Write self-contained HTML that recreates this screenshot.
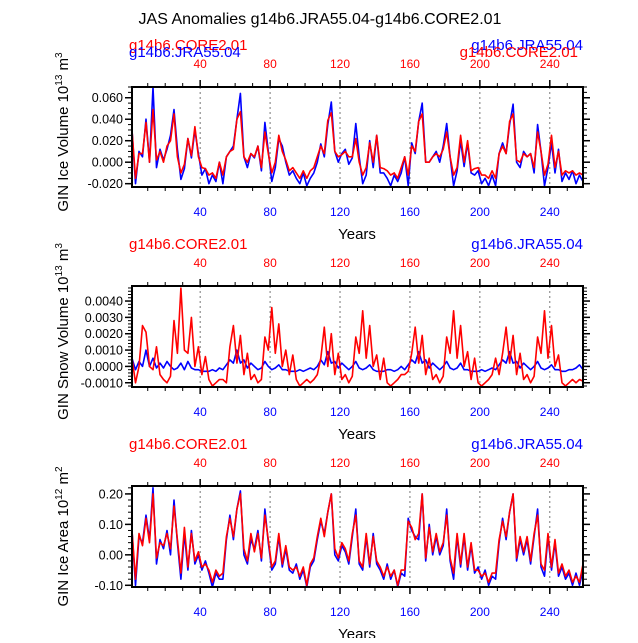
<!DOCTYPE html>
<html><head><meta charset="utf-8"><style>
body{margin:0;background:#fff}
svg text{font-family:"Liberation Sans",Arial,sans-serif}
</style></head><body>
<svg id="chart" width="638" height="638" viewBox="0 0 638 638" xmlns="http://www.w3.org/2000/svg">
<text x="320" y="24" font-size="16" text-anchor="middle">JAS Anomalies g14b6.JRA55.04-g14b6.CORE2.01</text>
</svg>
<script>
const years=[];for(let y=1;y<=259;y+=2)years.push(y);
const xTicks=[40,80,120,160,200,240];
const iceVolBlue=[0.030,-0.020,0.010,0.005,0.040,0.000,0.070,-0.005,0.012,0.002,0.012,0.025,0.049,0.012,-0.016,-0.006,0.022,0.004,0.030,0.008,-0.012,-0.006,-0.020,-0.012,-0.018,0.000,
-0.020,0.005,0.010,0.015,0.040,0.064,0.005,-0.005,0.008,0.004,0.015,-0.008,0.037,0.010,-0.018,-0.005,0.022,0.015,0.000,-0.012,-0.008,-0.015,-0.020,-0.010,-0.022,-0.015,
-0.010,0.000,0.017,0.005,0.035,0.056,0.010,0.000,0.008,0.012,-0.002,0.004,0.036,0.005,-0.020,-0.012,0.020,-0.005,0.025,-0.010,-0.010,-0.015,-0.022,-0.012,-0.018,-0.010,
0.005,-0.022,0.018,0.008,0.038,0.055,0.000,0.000,0.005,0.010,0.000,0.015,0.036,0.005,-0.022,-0.008,0.020,-0.004,0.018,-0.010,-0.012,-0.008,-0.020,-0.015,-0.022,-0.012,
-0.022,0.008,0.018,0.008,0.035,0.054,0.000,-0.005,0.010,0.005,0.008,-0.010,0.035,0.010,-0.022,-0.005,0.018,-0.010,0.012,-0.018,-0.010,-0.016,-0.008,-0.020,-0.012,-0.018];
const iceVolRed=[0.030,-0.015,0.008,0.008,0.037,0.000,0.049,0.002,0.010,0.000,0.015,0.020,0.045,0.005,-0.010,-0.002,0.022,0.006,0.033,0.005,-0.005,-0.006,-0.012,-0.010,-0.015,0.000,
-0.012,0.005,0.010,0.012,0.040,0.047,0.005,0.000,0.008,0.005,0.015,-0.005,0.028,0.008,-0.010,0.000,0.025,0.010,0.002,-0.008,-0.005,-0.010,-0.015,-0.008,-0.015,-0.008,
-0.005,0.005,0.015,0.008,0.039,0.046,0.010,0.005,0.007,0.010,0.005,0.005,0.022,0.000,-0.012,-0.005,0.018,0.000,0.025,-0.005,-0.006,-0.008,-0.012,-0.010,-0.015,-0.005,
0.005,-0.012,0.015,0.010,0.038,0.045,0.000,0.000,0.005,0.008,0.005,0.012,0.028,0.005,-0.012,-0.005,0.025,0.000,0.020,-0.008,-0.006,-0.005,-0.012,-0.012,-0.015,-0.008,
-0.015,0.008,0.015,0.008,0.038,0.045,0.002,0.000,0.008,0.005,0.008,-0.005,0.028,0.010,-0.012,-0.002,0.025,-0.005,0.010,-0.012,-0.008,-0.010,-0.008,-0.012,-0.010,-0.012];
const snowBlue=[0.0005,-0.0002,0.0003,0.0000,0.0010,0.0000,0.0005,-0.0001,0.0002,-0.0001,0.0003,0.0000,-0.0002,-0.0001,0.0002,-0.0002,0.0003,-0.0001,-0.0002,-0.0002,-0.0003,-0.0003,-0.0003,-0.0002,-0.0003,-0.0001,
-0.0002,0.0001,0.0004,0.0002,0.0010,0.0002,0.0004,-0.0001,0.0002,0.0000,-0.0002,-0.0001,0.0003,0.0000,-0.0002,-0.0001,0.0001,-0.0002,-0.0002,-0.0003,-0.0003,-0.0003,-0.0002,-0.0003,-0.0002,-0.0001,
-0.0002,0.0000,0.0004,0.0001,0.0009,0.0002,0.0003,-0.0001,0.0002,0.0000,-0.0002,0.0000,0.0003,-0.0001,-0.0002,-0.0001,0.0001,-0.0002,-0.0003,-0.0003,-0.0003,-0.0002,-0.0002,-0.0003,-0.0002,0.0000,
-0.0002,0.0001,0.0004,0.0002,0.0009,0.0002,0.0004,-0.0001,0.0002,0.0000,-0.0002,0.0000,0.0003,-0.0001,-0.0002,-0.0001,0.0002,-0.0002,-0.0002,-0.0003,-0.0003,-0.0003,-0.0002,-0.0003,-0.0002,-0.0001,
-0.0002,0.0001,0.0004,0.0002,0.0009,0.0002,0.0003,-0.0001,0.0002,0.0000,-0.0002,0.0000,0.0003,-0.0001,-0.0002,-0.0001,0.0001,-0.0002,-0.0002,-0.0003,-0.0003,-0.0002,-0.0002,-0.0001,0.0001,-0.0002];
const snowRed=[0.0005,-0.0010,0.0000,0.0025,0.0021,0.0000,-0.0002,0.0012,-0.0005,-0.0008,-0.0010,-0.0006,0.0028,0.0008,0.0048,0.0010,0.0008,0.0030,0.0000,0.0012,-0.0005,0.0006,-0.0008,-0.0012,-0.0010,-0.0008,
-0.0008,-0.0010,0.0012,0.0025,0.0002,0.0019,-0.0005,0.0008,-0.0008,-0.0005,-0.0010,-0.0008,0.0018,0.0010,0.0036,0.0008,0.0026,0.0000,0.0010,-0.0005,0.0007,-0.0008,-0.0012,-0.0010,-0.0008,-0.0010,
-0.0008,-0.0005,0.0005,0.0024,0.0000,0.0020,-0.0005,0.0008,-0.0008,-0.0005,-0.0010,-0.0006,0.0018,0.0008,0.0034,0.0005,0.0025,0.0000,0.0007,-0.0008,0.0005,-0.0010,-0.0012,-0.0010,-0.0008,-0.0005,
-0.0005,-0.0003,0.0008,0.0024,0.0002,0.0019,-0.0005,0.0005,-0.0008,-0.0005,-0.0010,-0.0006,0.0018,0.0008,0.0034,0.0005,0.0025,0.0000,0.0009,-0.0008,0.0005,-0.0010,-0.0012,-0.0010,-0.0008,-0.0005,
0.0005,-0.0005,0.0008,0.0024,0.0002,0.0019,-0.0005,0.0008,-0.0008,-0.0005,-0.0010,-0.0006,0.0018,0.0008,0.0034,0.0005,0.0025,0.0000,0.0007,-0.0010,-0.0012,-0.0010,-0.0008,-0.0010,-0.0008,-0.0009];
const areaBlue=[0.08,-0.10,0.06,0.04,0.13,0.05,0.22,-0.03,0.05,0.02,0.08,0.00,0.18,0.04,-0.08,0.07,-0.05,0.08,-0.03,0.00,-0.05,-0.02,-0.06,-0.11,-0.06,-0.08,
-0.08,0.05,0.13,0.05,0.15,0.21,0.00,-0.03,0.05,0.02,0.08,-0.02,0.15,0.04,-0.05,-0.03,0.06,-0.04,0.02,-0.05,-0.06,-0.03,-0.08,-0.05,-0.11,-0.04,
-0.02,0.05,0.11,0.07,0.14,0.20,0.00,-0.02,0.03,0.01,-0.03,0.06,0.15,-0.03,-0.05,0.06,-0.04,0.07,-0.03,-0.05,-0.08,-0.03,-0.08,-0.05,-0.11,-0.06,
-0.07,0.12,0.08,0.06,0.05,0.20,-0.02,0.10,0.00,0.06,0.00,0.03,0.15,-0.02,-0.08,0.06,-0.04,0.06,-0.05,0.03,-0.06,-0.04,-0.08,-0.05,-0.10,-0.07,
-0.08,0.04,0.12,0.05,0.14,0.20,-0.02,0.05,0.00,0.05,-0.03,0.06,0.15,-0.04,-0.07,0.06,-0.05,0.04,-0.07,-0.04,-0.08,-0.06,-0.10,-0.06,-0.10,-0.05];
const areaRed=[0.08,-0.08,0.07,0.03,0.12,0.04,0.20,-0.01,0.04,0.03,0.07,0.02,0.16,0.05,-0.06,0.09,-0.04,0.07,-0.02,0.01,-0.04,-0.03,-0.05,-0.09,-0.05,-0.07,
-0.06,0.06,0.12,0.06,0.15,0.20,0.02,-0.02,0.07,0.01,0.07,-0.01,0.13,0.05,-0.04,-0.02,0.07,-0.03,0.03,-0.04,-0.05,-0.04,-0.07,-0.04,-0.10,-0.03,
-0.01,0.06,0.12,0.06,0.14,0.20,0.02,-0.01,0.04,0.02,-0.02,0.07,0.13,-0.02,-0.04,0.07,-0.03,0.06,-0.02,-0.04,-0.07,-0.04,-0.07,-0.05,-0.10,-0.05,
-0.05,0.11,0.09,0.05,0.07,0.20,-0.01,0.09,0.01,0.07,0.01,0.04,0.13,-0.01,-0.06,0.07,-0.03,0.07,-0.04,0.04,-0.05,-0.05,-0.07,-0.06,-0.09,-0.06,
-0.06,0.05,0.11,0.06,0.14,0.20,-0.01,0.06,0.01,0.06,-0.02,0.07,0.13,-0.03,-0.05,0.07,-0.04,0.05,-0.06,-0.03,-0.07,-0.05,-0.09,-0.07,-0.09,-0.03];
const vTicks1=[0.060,0.040,0.020,0.000,-0.020], vLabels1=["0.060","0.040","0.020","0.000","-0.020"];
const vTicks2=[0.004,0.003,0.002,0.001,0.000,-0.001], vLabels2=["0.0040","0.0030","0.0020","0.0010","0.0000","-0.0010"];
const vTicks3=[0.20,0.10,0.00,-0.10], vLabels3=["0.20","0.10","0.00","-0.10"];

const NS='http://www.w3.org/2000/svg';
const svg=document.getElementById('chart');
function mk(tag,attrs,parent,text){const e=document.createElementNS(NS,tag);for(const k in attrs)e.setAttribute(k,attrs[k]);if(text!==undefined)e.textContent=text;(parent||svg).appendChild(e);return e;}
const X0=132,X1=583,XMIN=1,XMAX=259;
const xs=v=>X0+(v-XMIN)/(XMAX-XMIN)*(X1-X0);

const panels=[
 {name:'ice-volume',top:87,bot:187,ymin:-0.0231,ymax:0.0700,ticks:vTicks1,labels:vLabels1,minor:0.005,blue:iceVolBlue,red:iceVolRed,ytitle:['GIN Ice Volume 10','13',' m','3'],overlap:true},
 {name:'snow-volume',top:286,bot:387,ymin:-0.00126,ymax:0.00492,ticks:vTicks2,labels:vLabels2,minor:0.0002,blue:snowBlue,red:snowRed,ytitle:['GIN Snow Volume 10','13',' m','3'],overlap:false},
 {name:'ice-area',top:486,bot:587,ymin:-0.1056,ymax:0.226,ticks:vTicks3,labels:vLabels3,minor:0.02,blue:areaBlue,red:areaRed,ytitle:['GIN Ice Area 10','12',' m','2'],overlap:false}
];
panels.forEach(p=>{
 const g=mk('g',{});
 
 
 const ys=v=>p.bot-(v-p.ymin)/(p.ymax-p.ymin)*(p.bot-p.top);
 // dashed gridlines
 xTicks.forEach(t=>{const l=mk('line',{x1:xs(t),x2:xs(t),y1:p.top,y2:p.bot,stroke:'#777','stroke-width':1,'stroke-dasharray':'2,3'},g);
  
  });
 // series
 [['blue',p.blue,'#0000ff'],['red',p.red,'#ff0000']].forEach(([nm,arr,c])=>{
  const d=arr.map((v,i)=>(i?'L':'M')+xs(years[i]).toFixed(1)+','+ys(Math.max(p.ymin,Math.min(p.ymax,v))).toFixed(1)).join('');
  const path=mk('path',{d:d,fill:'none',stroke:c,'stroke-width':1.6,'stroke-linejoin':'round'},g);
  
  
 });
 // frame
 const fr=mk('rect',{x:X0,y:p.top,width:X1-X0,height:p.bot-p.top,fill:'none',stroke:'#000','stroke-width':2},g);
 
 
 // x ticks
 for(let t=10;t<=XMAX;t+=10){const maj=t%40===0;const L=maj?7:4;
  mk('line',{x1:xs(t),x2:xs(t),y1:p.bot,y2:p.bot+L,stroke:'#000','stroke-width':maj?1.5:1},g);
  mk('line',{x1:xs(t),x2:xs(t),y1:p.top,y2:p.top-L,stroke:'#000','stroke-width':maj?1.5:1},g);}
 xTicks.forEach(t=>{
  const b=mk('text',{x:xs(t),y:p.bot+29,'font-size':12,fill:'#0000ff','text-anchor':'middle'},g,String(t));
  
  
  const tt=mk('text',{x:xs(t),y:p.top-19,'font-size':12,fill:'#ff0000','text-anchor':'middle'},g,String(t));
  
  
 });
 // y minor ticks
 for(let v=Math.ceil(p.ymin/p.minor)*p.minor;v<=p.ymax;v+=p.minor){mk('line',{x1:X0,x2:X0-4,y1:ys(v),y2:ys(v),stroke:'#000','stroke-width':1},g);
  mk('line',{x1:X1,x2:X1+4,y1:ys(v),y2:ys(v),stroke:'#000','stroke-width':1},g);}
 p.ticks.forEach((v,i)=>{mk('line',{x1:X0,x2:X0-7,y1:ys(v),y2:ys(v),stroke:'#000','stroke-width':1.5},g);
  mk('line',{x1:X1,x2:X1+7,y1:ys(v),y2:ys(v),stroke:'#000','stroke-width':1.5},g);
  const tl=mk('text',{x:X0-9,y:ys(v)+4.5,'font-size':12.5,'text-anchor':'end'},g,p.labels[i]);
  
  });
 // y title
 const cy=(p.top+p.bot)/2+((p.name==='ice-area')?0:-5);
 const yt=mk('text',{x:0,y:0,'font-size':15,'text-anchor':'middle',transform:`translate(68,${cy}) rotate(-90)`},g);
 
 
 mk('tspan',{},yt,p.ytitle[0]);mk('tspan',{'font-size':10,dy:-6},yt,p.ytitle[1]);
 mk('tspan',{dy:6},yt,p.ytitle[2]);mk('tspan',{'font-size':10,dy:-6},yt,p.ytitle[3]);
 // x title
 const xt=mk('text',{x:357,y:p.bot+52,'font-size':15,'text-anchor':'middle'},g,'Years');
 
 
 // legend labels
 const base=p.top-37;
 const l1=mk('text',{x:129,y:base,'font-size':15,fill:'#ff0000'},g,'g14b6.CORE2.01');
 
 
 const r1=mk('text',{x:583,y:base,'font-size':15,fill:'#0000ff','text-anchor':'end'},g,'g14b6.JRA55.04');
 
 
 if(p.overlap){
  const l2=mk('text',{x:129,y:base+7,'font-size':15,fill:'#0000ff'},g,'g14b6.JRA55.04');
  
  
  const r2=mk('text',{x:578,y:base+7,'font-size':15,fill:'#ff0000','text-anchor':'end'},g,'g14b6.CORE2.01');
  
  
 }
});
</script>
</body></html>
